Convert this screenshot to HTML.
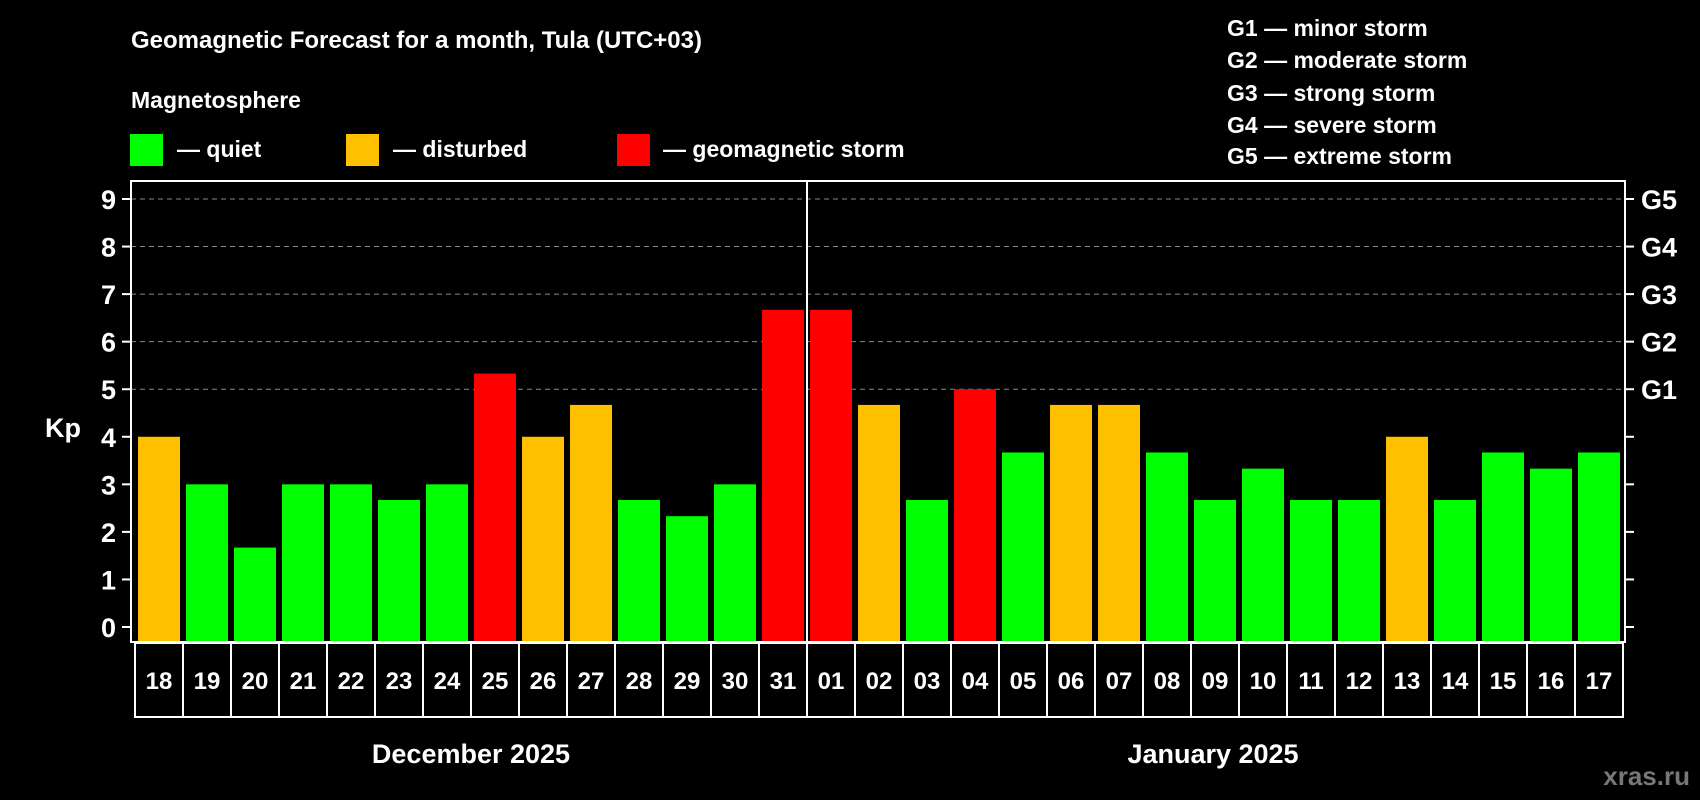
<!DOCTYPE html>
<html><head><meta charset="utf-8"><style>
html,body{margin:0;padding:0;background:#000;}
svg{display:block;font-family:"Liberation Sans",Arial,sans-serif;font-weight:bold;}
</style></head><body>
<svg id="chart" width="1700" height="800" viewBox="0 0 1700 800">
<rect width="1700" height="800" fill="#000"/>
<text x="131" y="48" fill="#fff" font-size="24">Geomagnetic Forecast for a month, Tula (UTC+03)</text>
<text x="131" y="108" fill="#fff" font-size="23">Magnetosphere</text>
<g><rect x="130" y="134" width="33" height="32" fill="#00ff00"/><text x="177" y="157" fill="#fff" font-size="23">— quiet</text></g>
<g><rect x="346" y="134" width="33" height="32" fill="#ffc000"/><text x="393" y="157" fill="#fff" font-size="23">— disturbed</text></g>
<g><rect x="617" y="134" width="33" height="32" fill="#ff0000"/><text x="663" y="157" fill="#fff" font-size="23">— geomagnetic storm</text></g>
<g fill="#fff" font-size="23">
<text x="1227" y="36">G1 — minor storm</text>
<text x="1227" y="68">G2 — moderate storm</text>
<text x="1227" y="101">G3 — strong storm</text>
<text x="1227" y="133">G4 — severe storm</text>
<text x="1227" y="164">G5 — extreme storm</text>
</g>
<text x="63" y="437" fill="#fff" font-size="27" text-anchor="middle">Kp</text>
<g id="grid"></g><g id="bars"></g><g id="axes"></g>
<text x="471" y="763" fill="#fff" font-size="27" text-anchor="middle">December 2025</text>
<text x="1213" y="763" fill="#fff" font-size="27" text-anchor="middle">January 2025</text>
<text x="1690" y="785" fill="#777" font-size="26" text-anchor="end">xras.ru</text>
</svg>
<script>
const days=["18","19","20","21","22","23","24","25","26","27","28","29","30","31","01","02","03","04","05","06","07","08","09","10","11","12","13","14","15","16","17"];
const kp=[4,3,1.67,3,3,2.67,3,5.33,4,4.67,2.67,2.33,3,6.67,6.67,4.67,2.67,5,3.67,4.67,4.67,3.67,2.67,3.33,2.67,2.67,4,2.67,3.67,3.33,3.67];
const yTicks=[0,1,2,3,4,5,6,7,8,9];
const gLabels=["G1","G2","G3","G4","G5"];
const gLevels=[5,6,7,8,9];
const NS="http://www.w3.org/2000/svg";
const L=131,R=1625,T=181,B=642;
function y(v){return 627-v*(627-199)/9;}
function x(i){return 135+i*48;}
function mk(tag,attrs,parent){const e=document.createElementNS(NS,tag);for(const k in attrs)e.setAttribute(k,attrs[k]);parent.appendChild(e);return e;}
const grid=document.getElementById('grid'),bars=document.getElementById('bars'),axes=document.getElementById('axes');
yTicks.forEach(v=>{
  if(v>=5){const g=mk('line',{x1:L,x2:R,y1:y(v),y2:y(v),stroke:'#888','stroke-dasharray':'5,4','stroke-width':1},grid);
  
  }
  const t=mk('line',{x1:L-9,x2:L,y1:y(v),y2:y(v),stroke:'#fff','stroke-width':2},axes);
  
  
  const t2=mk('line',{x1:R,x2:R+9,y1:y(v),y2:y(v),stroke:'#fff','stroke-width':2},axes);
  
  
  const lb=mk('text',{x:116,y:y(v)+10,fill:'#fff','font-size':27,'text-anchor':'end'},axes);lb.textContent=v;
  
  
});
gLabels.forEach((g,i)=>{
  const lb=mk('text',{x:1641,y:y(gLevels[i])+10,fill:'#fff','font-size':27},axes);lb.textContent=g;
  
  
});
kp.forEach((v,i)=>{
  const c=v>=5?'#ff0000':(v>=4?'#ffc000':'#00ff00');
  const r=mk('rect',{x:x(i)+3,y:y(v),width:42,height:B-y(v),fill:c},bars);
  
  
  const cell=mk('rect',{x:x(i),y:643,width:48,height:74,fill:'none',stroke:'#fff','stroke-width':2},axes);
  
  
  const t=mk('text',{x:x(i)+24,y:689,fill:'#fff','font-size':24,'text-anchor':'middle'},axes);t.textContent=days[i];
  
  
});
const fr=mk('rect',{x:L,y:T,width:R-L,height:B-T,fill:'none',stroke:'#fff','stroke-width':2},axes);


const dv=mk('line',{x1:807,x2:807,y1:T,y2:B,stroke:'#fff','stroke-width':2},axes);


</script>
</body></html>
